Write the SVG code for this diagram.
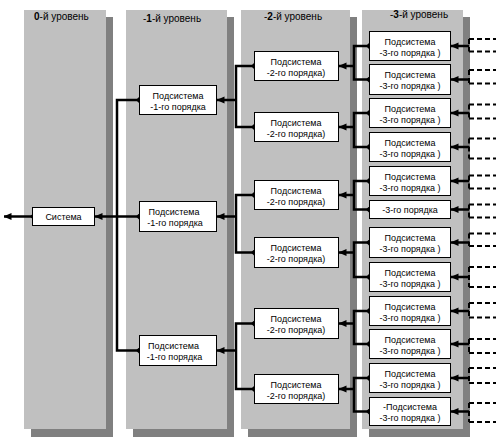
<svg xmlns="http://www.w3.org/2000/svg" width="496" height="442" viewBox="0 0 496 442">
<style>
.col{fill:#c0c0c0}
.sh{fill:#808080}
.box{fill:#ffffff;stroke:#000000;stroke-width:1}
.t{font-family:"Liberation Sans",Arial,sans-serif;font-size:9px;fill:#000000;text-anchor:middle}
.ttl{font-family:"Liberation Sans",Arial,sans-serif;font-size:10px;fill:#000000}
.ln{fill:none;stroke:#000000;stroke-width:2.5}
.fk{fill:none;stroke:#000000;stroke-width:2.5;marker-start:url(#dia);marker-end:url(#dia)}
.ar{fill:none;stroke:#000000;stroke-width:2.5;marker-end:url(#arr)}
.ds{fill:none;stroke:#000000;stroke-width:2;stroke-dasharray:5,3}
</style>
<defs>
<marker id="arr" viewBox="0 0 8 8" refX="7.5" refY="4" markerWidth="8" markerHeight="8" markerUnits="userSpaceOnUse" orient="auto">
<path d="M0,0.5 L8,4 L0,7.5 z" fill="#000000"/>
</marker>
<marker id="dia" viewBox="0 0 6 6" refX="3" refY="3" markerWidth="6" markerHeight="6" markerUnits="userSpaceOnUse" orient="auto">
<path d="M3,0 L6,3 L3,6 L0,3 z" fill="#000000"/>
</marker>
</defs>
<rect x="0" y="0" width="496" height="442" fill="#ffffff"/>
<g id="columns">
<rect class="sh" x="31" y="17" width="82" height="420"/>
<rect class="col" x="24" y="10" width="82" height="419"/>
<rect class="sh" x="133" y="17" width="101" height="420"/>
<rect class="col" x="126" y="10" width="101" height="419"/>
<rect class="sh" x="248" y="17" width="109" height="420"/>
<rect class="col" x="241" y="10" width="109" height="419"/>
<rect class="sh" x="369" y="17" width="101" height="420"/>
<rect class="col" x="362" y="10" width="101" height="419"/>
<text class="ttl" x="34" y="20"><tspan font-weight="bold">0</tspan>-й уровень</text>
<text class="ttl" x="143" y="22">-<tspan font-weight="bold">1</tspan>-й уровень</text>
<text class="ttl" x="264" y="20">-<tspan font-weight="bold">2</tspan>-й уровень</text>
<text class="ttl" x="390" y="18">-<tspan font-weight="bold">3</tspan>-й уровень</text>
</g>
<g id="connectors">
<path class="ar" d="M32,216.5 H4"/>
<path class="fk" d="M139,100 H117 V350.5 H139" style="marker-start:url(#dia)"/>
<path class="ln" d="M117,216.5 H139" style="marker-end:url(#dia)"/>
<path class="ar" d="M117,216.5 H95"/>
<path class="ln" d="M32,216.5 H33" style="marker-end:url(#dia)"/>
<path class="fk" d="M254,66 H236 V127 H254"/>
<path class="ar" d="M236,100 H217"/>
<path class="fk" d="M254,195 H236 V252.5 H254"/>
<path class="ar" d="M236,216.5 H217"/>
<path class="fk" d="M254,323.5 H236 V389 H254"/>
<path class="ar" d="M236,350.5 H217"/>
<path class="fk" d="M369,46 H354 V79.5 H369"/>
<path class="ar" d="M354,66 H339"/>
<path class="fk" d="M369,113 H354 V147 H369"/>
<path class="ar" d="M354,127 H339"/>
<path class="fk" d="M369,181 H354 V209.5 H369"/>
<path class="ar" d="M354,195 H339"/>
<path class="fk" d="M369,242.5 H354 V277 H369"/>
<path class="ar" d="M354,252.5 H339"/>
<path class="fk" d="M369,311 H354 V344 H369"/>
<path class="ar" d="M354,323.5 H339"/>
<path class="fk" d="M369,378 H354 V411.5 H369"/>
<path class="ar" d="M354,389 H339"/>
<path class="ar" d="M469,46 H451"/>
<path class="ds" d="M469,39 H496 M469,39 V51.5 M469,51.5 H496"/>
<path class="ar" d="M469,79.5 H451"/>
<path class="ds" d="M469,70 H496 M469,70 V83.5 M469,83.5 H496"/>
<path class="ar" d="M469,113 H451"/>
<path class="ds" d="M469,104.5 H496 M469,104.5 V118.5 M469,118.5 H496"/>
<path class="ar" d="M469,147 H451"/>
<path class="ds" d="M469,138.5 H496 M469,138.5 V158.5 M469,158.5 H496"/>
<path class="ar" d="M469,181 H451"/>
<path class="ds" d="M469,175.5 H496 M469,175.5 V188.5 M469,188.5 H496"/>
<path class="ar" d="M469,209.5 H451"/>
<path class="ds" d="M469,204.5 H496 M469,204.5 V217.5 M469,217.5 H496"/>
<path class="ar" d="M469,242.5 H451"/>
<path class="ds" d="M469,233.5 H496 M469,233.5 V246 M469,246 H496"/>
<path class="ar" d="M469,277 H451"/>
<path class="ds" d="M469,267 H496 M469,267 V287 M469,287 H496"/>
<path class="ar" d="M469,311 H451"/>
<path class="ds" d="M469,303 H496 M469,303 V317.5 M469,317.5 H496"/>
<path class="ar" d="M469,344 H451"/>
<path class="ds" d="M469,339 H496 M469,339 V353 M469,353 H496"/>
<path class="ar" d="M469,378 H451"/>
<path class="ds" d="M469,368 H496 M469,368 V383 M469,383 H496"/>
<path class="ar" d="M469,411.5 H451"/>
<path class="ds" d="M469,403 H496 M469,403 V422 M469,422 H496"/>
</g>
<g id="n0"><rect class="box" x="32.5" y="207.5" width="62" height="18"/><text class="t" x="63.5" y="220">Система</text></g>
<g id="n1a"><rect class="box" x="139.5" y="85.5" width="77" height="29"/><text class="t" x="178" y="98.5">Подсистема</text><text class="t" x="178" y="109.5">-1-го порядка</text></g>
<g id="n1b"><rect class="box" x="139.5" y="201.5" width="77" height="30"/><text class="t" x="174" y="214.5">Подсистема</text><text class="t" x="175" y="225.5">-1-го порядка</text></g>
<g id="n1c"><rect class="box" x="139.5" y="335.5" width="77" height="30"/><text class="t" x="173.5" y="348.5">Подсистема</text><text class="t" x="174.5" y="359.5">-1-го порядка</text></g>
<g id="n2a"><rect class="box" x="254.5" y="51.5" width="84" height="29"/><text class="t" x="296" y="64.5">Подсистема</text><text class="t" x="296" y="75.5">-2-го порядка)</text></g>
<g id="n2b"><rect class="box" x="254.5" y="112.5" width="84" height="29"/><text class="t" x="296" y="125.5">Подсистема</text><text class="t" x="296" y="136.5">-2-го порядка)</text></g>
<g id="n2c"><rect class="box" x="254.5" y="180.5" width="84" height="29"/><text class="t" x="296" y="193.5">Подсистема</text><text class="t" x="296" y="204.5">-2-го порядка)</text></g>
<g id="n2d"><rect class="box" x="254.5" y="237.5" width="84" height="30"/><text class="t" x="296" y="250.5">Подсистема</text><text class="t" x="296" y="261.5">-2-го порядка)</text></g>
<g id="n2e"><rect class="box" x="254.5" y="308.5" width="84" height="30"/><text class="t" x="296" y="321.5">Подсистема</text><text class="t" x="296" y="332.5">-2-го порядка)</text></g>
<g id="n2f"><rect class="box" x="254.5" y="374.5" width="84" height="29"/><text class="t" x="296" y="387.5">Подсистема</text><text class="t" x="296" y="398.5">-2-го порядка)</text></g>
<g id="n3a"><rect class="box" x="369.5" y="31.5" width="81" height="29"/><text class="t" x="410" y="44.5">Подсистема</text><text class="t" x="410" y="55.5">-3-го порядка )</text></g>
<g id="n3b"><rect class="box" x="369.5" y="64.5" width="81" height="30"/><text class="t" x="410" y="77.5">Подсистема</text><text class="t" x="410" y="88.5">-3-го порядка )</text></g>
<g id="n3c"><rect class="box" x="369.5" y="98.5" width="81" height="29"/><text class="t" x="410" y="111.5">Подсистема</text><text class="t" x="410" y="122.5">-3-го порядка )</text></g>
<g id="n3d"><rect class="box" x="369.5" y="132.5" width="81" height="29"/><text class="t" x="410" y="145.5">Подсистема</text><text class="t" x="410" y="156.5">-3-го порядка )</text></g>
<g id="n3e"><rect class="box" x="369.5" y="166.5" width="81" height="29"/><text class="t" x="410" y="179.5">Подсистема</text><text class="t" x="410" y="190.5">-3-го порядка )</text></g>
<g id="n3f"><rect class="box" x="369.5" y="200.5" width="81" height="18"/><text class="t" x="410" y="213">-3-го порядка</text></g>
<g id="n3g"><rect class="box" x="369.5" y="227.5" width="81" height="30"/><text class="t" x="410" y="240.5">Подсистема</text><text class="t" x="410" y="251.5">-3-го порядка )</text></g>
<g id="n3h"><rect class="box" x="369.5" y="262.5" width="81" height="29"/><text class="t" x="410" y="275.5">Подсистема</text><text class="t" x="410" y="286.5">-3-го порядка )</text></g>
<g id="n3i"><rect class="box" x="369.5" y="296.5" width="81" height="29"/><text class="t" x="410" y="309.5">Подсистема</text><text class="t" x="410" y="320.5">-3-го порядка )</text></g>
<g id="n3j"><rect class="box" x="369.5" y="329.5" width="81" height="29"/><text class="t" x="410" y="342.5">Подсистема</text><text class="t" x="410" y="353.5">-3-го порядка )</text></g>
<g id="n3k"><rect class="box" x="369.5" y="363.5" width="81" height="29"/><text class="t" x="410" y="376.5">Подсистема</text><text class="t" x="410" y="387.5">-3-го порядка )</text></g>
<g id="n3l"><rect class="box" x="369.5" y="397.5" width="81" height="28"/><text class="t" x="410" y="410">-Подсистема</text><text class="t" x="410" y="421">-3-го порядка )</text></g>
</svg>
